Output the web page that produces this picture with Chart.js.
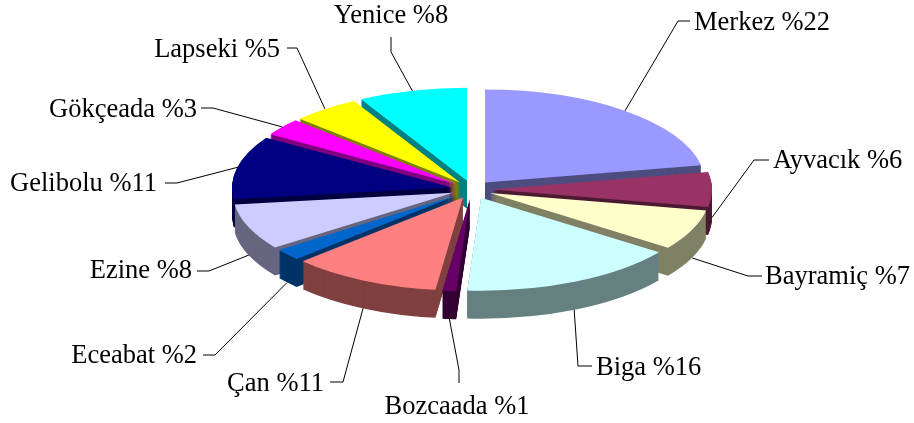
<!DOCTYPE html>
<html>
<head>
<meta charset="utf-8">
<style>html,body{margin:0;padding:0;background:#fff}#w{width:914px;height:423px}</style>
<script src="https://cdn.jsdelivr.net/npm/chart.js@4"></script>
</head>
<body>
<div id="w"><canvas id="c"></canvas></div>
<script>
const categories = ["Merkez","Ayvacık","Bayramiç","Biga","Bozcaada","Çan","Eceabat","Ezine","Gelibolu","Gökçeada","Lapseki","Yenice"];
const shares = [22,6,7,16,1,11,2,8,11,3,5,8];
const faceColors = ["#9999FF","#993366","#FFFFCC","#CCFFFF","#660066","#FF8080","#0066CC","#CCCCFF","#000080","#FF00FF","#FFFF00","#00FFFF"];

// Projection of the flat pie into the tilted 3D look (screen pixels)
const radiusX = 220, radiusY = 93, depth = 28, explodeX = 20, explodeY = 9;

// Callout layout per slice: elbow, end of leader, text anchor
const callouts = [
  {elbow:[678,21],  end:[690,21],  text:[694,30],  align:"left"},
  {elbow:[754,160], end:[769,160], text:[773,168], align:"left"},
  {elbow:[748,276], end:[762,276], text:[765,284], align:"left"},
  {elbow:[578,366], end:[592,366], text:[596,375], align:"left"},
  {elbow:[459,370], end:[459,383], text:[457,414], align:"center"},
  {elbow:[343,382], end:[330,382], text:[324,391], align:"right"},
  {elbow:[215,355], end:[203,355], text:[197,363], align:"right"},
  {elbow:[209,271], end:[197,271], text:[192,278], align:"right"},
  {elbow:[177,183], end:[165,183], text:[157,191], align:"right"},
  {elbow:[213,108], end:[201,108], text:[197,117], align:"right"},
  {elbow:[297,48],  end:[287,48],  text:[280,57],  align:"right"},
  {elbow:[391,52],  end:[391,37],  text:[391,23],  align:"center"}
];

function halfTone(hex){
  const n = parseInt(hex.slice(1),16);
  const f = v => Math.round(v/2);
  return `rgb(${f(n>>16&255)},${f(n>>8&255)},${f(n&255)})`;
}
const midAngle = el => (el.startAngle + el.endAngle)/2;

const pie3d = {
  id:"pie3d",
  beforeDatasetDraw(chart, args){
    const ctx = chart.ctx;
    const els = chart.getDatasetMeta(args.index).data.slice();
    const order = els.map((el,i)=>({el,i})).sort((a,b)=>Math.sin(midAngle(a.el))-Math.sin(midAngle(b.el)));
    order.forEach(({el,i})=>{
      const a = midAngle(el), base = el.options;
      const sx = radiusX/el.outerRadius, sy = radiusY/el.outerRadius;
      const place = d => {
        ctx.translate(Math.round(el.x + Math.cos(a)*explodeX), el.y + Math.sin(a)*explodeY + d);
        ctx.scale(sx, sy);
        ctx.translate(-el.x, -el.y);
      };
      el.options = Object.assign({}, base, {backgroundColor: halfTone(faceColors[i])});
      for(let d = depth; d >= 1; d--){
        ctx.save(); place(d); el.draw(ctx); ctx.restore();
      }
      el.options = base;
      ctx.save(); place(0); el.draw(ctx); ctx.restore();
    });
    return false;
  },
  afterDraw(chart){
    const ctx = chart.ctx;
    const els = chart.getDatasetMeta(0).data;
    ctx.save();
    ctx.strokeStyle = "#000"; ctx.lineWidth = 1; ctx.fillStyle = "#000";
    ctx.font = '26.5px "Liberation Serif"';
    ctx.textBaseline = "alphabetic";
    els.forEach((el,i)=>{
      const a = midAngle(el), c = Math.cos(a), s = Math.sin(a), co = callouts[i];
      const x0 = el.x + c*explodeX + c*radiusX;
      const y0 = el.y + s*explodeY + s*radiusY + (s >= -0.001 ? depth : 0);
      ctx.beginPath();
      ctx.moveTo(x0,y0); ctx.lineTo(co.elbow[0],co.elbow[1]); ctx.lineTo(co.end[0],co.end[1]);
      ctx.stroke();
      ctx.textAlign = co.align;
      ctx.fillText(categories[i]+" %"+shares[i], co.text[0], co.text[1]);
    });
    ctx.restore();
  }
};

new Chart(document.getElementById("c"),{
  type:"pie",
  data:{labels:categories,datasets:[{data:shares,backgroundColor:faceColors,borderWidth:0,hoverOffset:0}]},
  options:{
    responsive:true,maintainAspectRatio:false,animation:false,
    layout:{padding:{left:30,bottom:44}},
    plugins:{legend:{display:false},tooltip:{enabled:false}},
    events:[]
  },
  plugins:[pie3d]
});
</script>
</body>
</html>
